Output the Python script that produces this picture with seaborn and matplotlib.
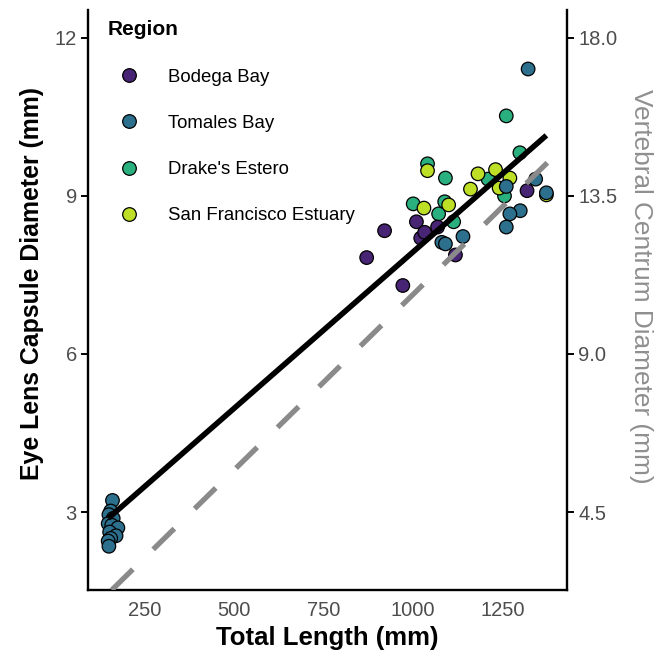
import numpy as np
import pandas as pd
import matplotlib
matplotlib.use("Agg")
import matplotlib.pyplot as plt
from matplotlib.lines import Line2D
import seaborn as sns

# ---------------- data ----------------
regions = ["Bodega Bay", "Tomales Bay", "Drake's Estero", "San Francisco Estuary"]

bodega_tl = [870, 920, 971, 1009, 1021, 1032, 1068, 1118, 1318]
bodega_eye = [7.83, 8.34, 7.30, 8.51, 8.20, 8.31, 8.41, 7.88, 9.10]

tomales_tl = [160, 155, 150, 162, 148, 158, 175, 152, 170, 155, 148, 150,
              1321, 1260, 1342, 1372, 1299, 1270, 1260, 1139, 1080, 1090]
tomales_eye = [3.22, 3.02, 2.95, 2.88, 2.78, 2.75, 2.70, 2.62, 2.55, 2.50, 2.45, 2.35,
               11.41, 9.18, 9.32, 9.06, 8.72, 8.66, 8.41, 8.23, 8.12, 8.09]

drakes_tl = [1260, 1040, 1090, 1000, 1071, 1088, 1113, 1209, 1298, 1255]
drakes_eye = [10.52, 9.61, 9.34, 8.85, 8.66, 8.89, 8.51, 9.32, 9.82, 9.00]

sf_tl = [1040, 1030, 1099, 1181, 1160, 1230, 1270, 1240, 1372]
sf_eye = [9.48, 8.77, 8.83, 9.42, 9.13, 9.50, 9.34, 9.15, 9.02]

# fitted lines (eye lens on left axis, vertebral centrum on right axis)
lens_intercept, lens_slope = 2.0, 0.00594
vert_intercept, vert_slope = 0.70, 0.0100

x_ticks = [250, 500, 750, 1000, 1250]
y_ticks = [3, 6, 9, 12]
y2_ticks = [4.5, 9.0, 13.5, 18.0]
axis_ratio = 1.5

# draw order of the points
df = pd.concat([
    pd.DataFrame({"tl": drakes_tl, "eye": drakes_eye, "region": regions[2]}),
    pd.DataFrame({"tl": sf_tl, "eye": sf_eye, "region": regions[3]}),
    pd.DataFrame({"tl": tomales_tl, "eye": tomales_eye, "region": regions[1]}),
    pd.DataFrame({"tl": bodega_tl, "eye": bodega_eye, "region": regions[0]}),
], ignore_index=True)

# ---------------- style ----------------
sns.set_style("white")
plt.rcParams['font.family'] = ['Liberation Sans', 'DejaVu Sans']
plt.rcParams['text.color'] = 'black'
plt.rcParams['axes.labelcolor'] = 'black'

cmap = matplotlib.colormaps["viridis"]
palette = dict(zip(regions, [cmap(v) for v in np.linspace(0.1, 0.9, 4)]))

W, H = 663, 659
fig = plt.figure(figsize=(W / 100, H / 100), dpi=100)
ax = fig.add_axes([88 / W, 1 - 590 / H, (567 - 88) / W, (590 - 10) / H])

sns.scatterplot(data=df, x="tl", y="eye", hue="region", hue_order=regions,
                palette=palette, s=95, edgecolor="black", linewidth=0.9,
                legend=False, ax=ax, zorder=3)

xs = np.array([df["tl"].min(), df["tl"].max()])
ax.plot(xs, lens_intercept + lens_slope * xs, color="black", lw=4.0,
        solid_capstyle="butt", zorder=4)

ax.set_xlim(91.6, 1429.6)
ax.set_ylim(1.52, 12.53)
ax.set_xticks(x_ticks)
ax.set_yticks(y_ticks)
ax.set_yticklabels([str(v) for v in y_ticks])

ax2 = ax.twinx()
ax2.set_ylim(1.52 * axis_ratio, 12.53 * axis_ratio)
ax2.set_yticks(y2_ticks)
ax2.set_yticklabels([f"{v:.1f}" for v in y2_ticks])
ax2.axline((0, vert_intercept), slope=vert_slope, color="#8a8a8a", lw=3.8,
           dashes=(5.6, 5.4), solid_capstyle="butt", dash_capstyle="butt")

for a in (ax, ax2):
    for s in a.spines.values():
        s.set_visible(False)
        s.set_linewidth(1.7)
        s.set_color("black")
ax.spines["left"].set_visible(True)
ax.spines["bottom"].set_visible(True)
ax2.spines["right"].set_visible(True)

tick_kw = dict(direction="out", length=5, width=1.4, color="black",
               labelcolor="#4D4D4D", labelsize=14.5, pad=3)
ax.tick_params(axis="both", **tick_kw)
ax2.tick_params(axis="y", **tick_kw)

ax.set_xlabel("Total Length (mm)", fontsize=18.5, fontweight="bold",
              color="black", labelpad=4)
ax.set_ylabel("Eye Lens Capsule Diameter (mm)", fontsize=17.9, fontweight="bold",
              color="black", labelpad=8)
ax.yaxis.label.set_y((590 - 284) / 580)
ax2.set_ylabel("Vertebral Centrum Diameter (mm)", fontsize=18.9, color="#8f8f8f",
               rotation=270, labelpad=26)
ax2.yaxis.label.set_y((590 - 286) / 580)

handles = [Line2D([], [], marker="o", linestyle="", markersize=9.8,
                  markerfacecolor=palette[r], markeredgecolor="black",
                  markeredgewidth=0.9) for r in regions]
leg = ax2.legend(handles, regions, title="Region", loc="upper left",
                 bbox_to_anchor=(98 / W, 1 - 11 / H), bbox_transform=fig.transFigure,
                 frameon=False, borderpad=0, alignment="left",
                 prop={"size": 13.4}, title_fontproperties={"weight": "bold", "size": 15},
                 handlelength=2.37, handletextpad=0.91, labelspacing=1.57)
leg.get_title().set_color("black")
for t in leg.get_texts():
    t.set_color("black")

fig.savefig("out.png", dpi=100)
